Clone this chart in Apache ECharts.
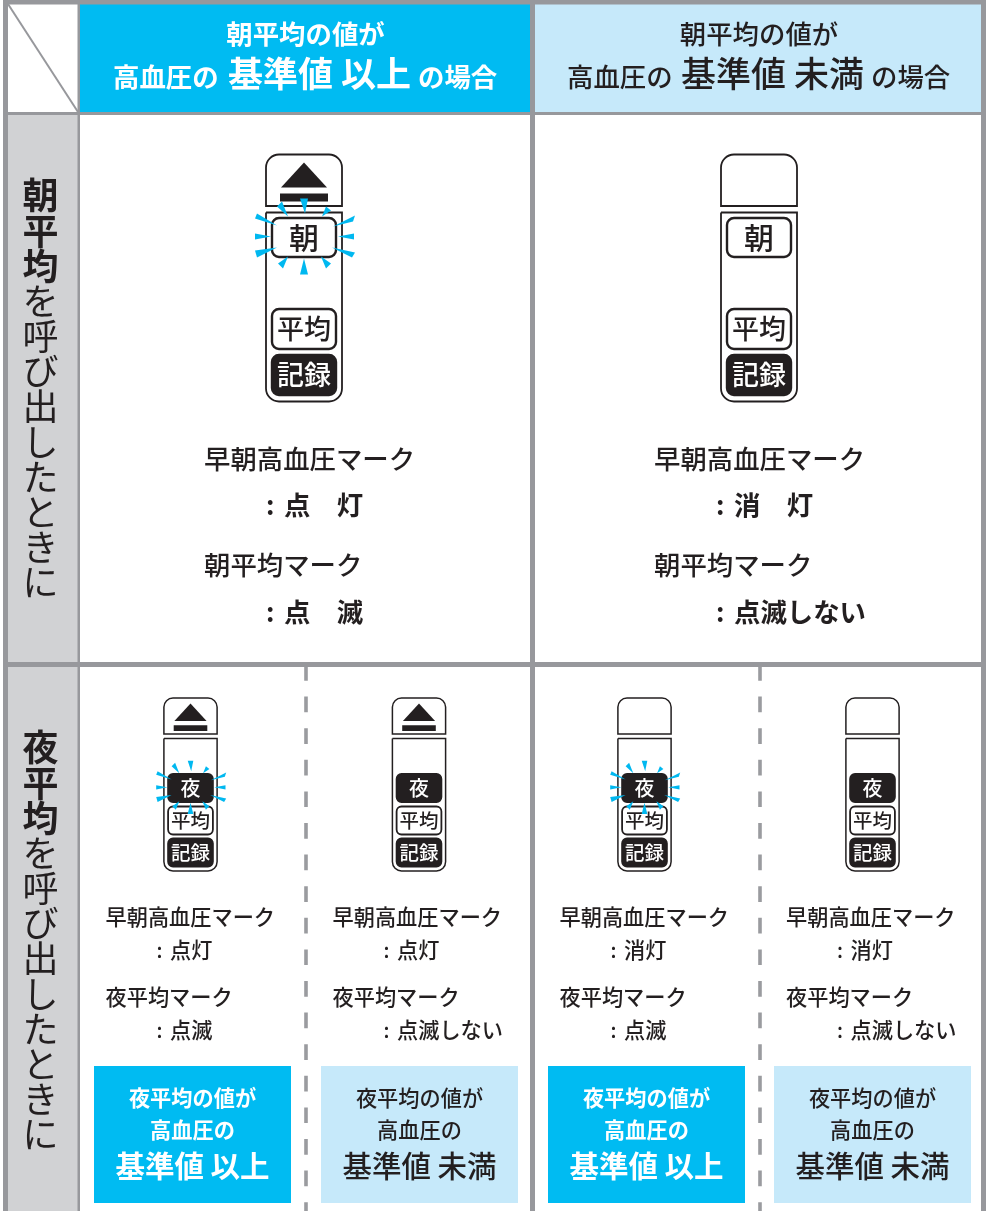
<!DOCTYPE html>
<html lang="ja">
<head>
<meta charset="utf-8">
<title>朝平均・夜平均</title>
<script src="https://cdn.jsdelivr.net/npm/echarts@6/dist/echarts.min.js"></script>
<style>
  html, body { margin: 0; padding: 0; background: #fff; }
  #chart { width: 988px; height: 1211px; }
</style>
</head>
<body>
<div id="chart"></div>
<script>
const headerLine1 = '朝平均の値が';
const headerLine2 = ['高血圧の', '基準値', 'の場合'];
const headerStates = ['以上', '未満'];
const sideBold = [['朝', '平', '均'], ['夜', '平', '均']];
const sideRest = ['を', '呼', 'び', '出', 'し', 'た', 'と', 'き', 'に'];
const markEarly = '早朝高血圧マーク';
const markAverage = ['朝平均マーク', '夜平均マーク'];
const largeEarlyState = ['点　灯', '消　灯'];
const largeAverageState = ['点　滅', '点滅しない'];
const smallEarlyState = ['点灯', '点灯', '消灯', '消灯'];
const smallAverageState = ['点滅', '点滅しない', '点滅', '点滅しない'];
const boxLines = ['夜平均の値が', '高血圧の'];
const boxStates = ['基準値 以上', '基準値 未満', '基準値 以上', '基準値 未満'];

const FONT = '"Noto Sans CJK JP", "Noto Sans", sans-serif';
const INK = '#231f20';
const GRID = '#97989c';
const BLUE = '#00bbf2';
const PALE = '#c6e9fa';
const RAY = '#00b8f0';

const els = [];

function box(x, y, w, h, fill, extra) {
  els.push({ type: 'rect', shape: { x, y, width: w, height: h, r: extra && extra.r || 0 },
    style: { fill, stroke: extra && extra.stroke || null, lineWidth: extra && extra.lw || 0 } });
}
function line(x1, y1, x2, y2, stroke, lw, dash) {
  els.push({ type: 'line', shape: { x1, y1, x2, y2 }, style: { stroke, lineWidth: lw, lineDash: dash || null } });
}
function poly(points, fill) {
  els.push({ type: 'polygon', shape: { points }, style: { fill } });
}
function label(text, x, y, size, opt) {
  opt = opt || {};
  els.push({ type: 'text', x, y, style: {
    text, font: `${opt.weight || (opt.bold ? 'bold' : '500')} ${size}px ${FONT}`, fill: opt.fill || INK,
    align: opt.align || 'left', verticalAlign: 'middle', lineHeight: opt.lineHeight,
  } });
}

// ray wedges around a button centre: [tipX, tipY, baseX1, baseY1, baseX2, baseY2], at large scale
const rays = [
  [1, -24, -4, -39, 4, -39], [-16, -21, -27, -31, -22, -36], [-27, -12, -49, -19, -47, -24],
  [-33, -1, -49, -4, -49, 2], [-27, 10, -49, 13, -47, 20], [-16, 19, -26, 26, -21, 31],
  [0, 21, -4, 37, 4, 37], [17, 19, 22, 31, 27, 26], [28, 10, 48, 20, 51, 15],
  [34, -1, 50, -4, 50, 2], [29, -11, 49, -16, 51, -22], [18, -21, 22, -31, 27, -27],
];

function device(cx, top, s, o) {
  const W = 76 * s, ink = o.ink;
  const r = 13 * s;
  // cap
  els.push({ type: 'rect', shape: { x: cx - W / 2, y: top, width: W, height: 51.5 * s, r: [r, r, 0, 0] },
    style: { fill: '#fff', stroke: INK, lineWidth: ink } });
  if (o.on) {
    poly([[cx, top + 8 * s], [cx - 23 * s, top + 33 * s], [cx + 23 * s, top + 33 * s]], INK);
    box(cx - 24 * s, top + 39 * s, 48 * s, 8 * s, INK);
  }
  // body
  els.push({ type: 'rect', shape: { x: cx - W / 2, y: top + 58 * s, width: W, height: 189 * s, r: [0, 0, r, r] },
    style: { fill: '#fff', stroke: INK, lineWidth: ink } });
  const bw = 64 * s, bx = cx - bw / 2;
  const btn = (y, h, text, dark, size) => {
    box(bx, y, bw, h, dark ? INK : '#fff', { r: 7 * s, stroke: INK, lw: o.btnInk });
    label(text, cx, y + h / 2, size, { align: 'center', fill: dark ? '#fff' : INK });
  };
  btn(o.topY, o.topH, o.name, o.topDark, o.nameSize);
  btn(o.avgY, o.btnH, '平均', false, o.btnSize);
  btn(o.recY, o.btnH, '記録', true, o.btnSize);
  if (o.blink) {
    const cy = o.topY + o.topH / 2;
    rays.forEach(a => poly([
      [cx + a[0] * s, cy + a[1] * s], [cx + a[2] * s, cy + a[3] * s], [cx + a[4] * s, cy + a[5] * s],
    ], RAY));
  }
}

// cell fills
box(0, 0, 988, 1211, '#fff');
box(8, 115, 70, 547, '#d1d2d4');
box(8, 667, 70, 544, '#d1d2d4');
box(80, 4, 450, 108, BLUE);
box(535, 4, 446, 108, PALE);

// dashed dividers in the lower row
[306, 760].forEach(x => line(x, 665, x, 1211, '#9a9b9f', 3.6, [15.7, 15.9]));

// frame
box(3, 0, 983, 4.5, GRID);
box(3, 0, 5, 1211, GRID);
box(981, 0, 5, 1211, GRID);
box(77.5, 0, 2.5, 1211, GRID);
box(530, 0, 5, 1211, GRID);
box(3, 112, 983, 3, GRID);
box(3, 662, 983, 5, GRID);
line(8, 4, 78, 112, GRID, 2);

// headers
label(headerLine1, 305.5, 34, 26.4, { bold: true, fill: '#fff', align: 'center' });
label(headerLine2[0], 113, 77, 26.4, { bold: true, fill: '#fff' });
label(headerLine2[1] + ' ' + headerStates[0], 228, 74, 35, { bold: true, fill: '#fff' });
label(headerLine2[2], 418, 77, 26.4, { bold: true, fill: '#fff' });
label(headerLine1, 759, 34, 26.4, { align: 'center' });
label(headerLine2[0], 567, 77, 26.4);
label(headerLine2[1] + ' ' + headerStates[1], 681, 74, 35);
label(headerLine2[2], 871, 77, 26.4);

// vertical row headings
[178, 730].forEach((y, i) => {
  label(sideBold[i].join('\n'), 40.5, y + 53, 36, { bold: true, align: 'center', lineHeight: 35.2 });
  label(sideRest.join('\n'), 40.5, y + 105.6 + 158.4, 36, { weight: 'normal', align: 'center', lineHeight: 35.2 });
});

// upper row
[304, 759].forEach((cx, i) => {
  device(cx, 154.5, 1, {
    on: i === 0, blink: i === 0, name: '朝', topY: 218, topH: 39, nameSize: 30, topDark: false,
    avgY: 309, recY: 355, btnH: 40, btnSize: 27, ink: 1.8, btnInk: 2.4,
  });
  const x = i === 0 ? 204 : 654;
  label(markEarly, x, 459, 26.4);
  label(':', x + 62, 505, 26, { bold: true });
  label(largeEarlyState[i], x + 80, 505, 26.4, { bold: true });
  label(markAverage[0], x, 565, 26.4);
  label(':', x + 62, 612, 26, { bold: true });
  label(largeAverageState[i], x + 80, 612, 26.4, { bold: true });
});

// lower row
const lowerCx = [190.5, 419, 644.5, 872.5];
const lowerTextX = [105.5, 332.5, 559.5, 786];
const lowerBoxX = [94, 321, 548, 774];
lowerCx.forEach((cx, i) => {
  device(cx, 698, 0.7, {
    on: i < 2, blink: i % 2 === 0, name: '夜', topY: 774, topH: 28, nameSize: 20, topDark: true,
    avgY: 806.5, recY: 838.5, btnH: 28, btnSize: 19.5, ink: 1.5, btnInk: 1.8,
  });
  const x = lowerTextX[i];
  label(markEarly, x, 917, 21.2);
  label(':', x + 51, 950, 20);
  label(smallEarlyState[i], x + 64.5, 950, 21.2);
  label(markAverage[1], x, 997, 21.2);
  label(':', x + 51, 1030, 20);
  label(smallAverageState[i], x + 64.5, 1030, 21.2);

  const strong = i % 2 === 0;
  const txt = { align: 'center', bold: strong, fill: strong ? '#fff' : INK };
  const bx = lowerBoxX[i];
  box(bx, 1066, 197, 137, strong ? BLUE : PALE);
  label(boxLines[0], bx + 98.5, 1098, 21.2, txt);
  label(boxLines[1], bx + 98.5, 1130, 21.2, txt);
  label(boxStates[i], bx + 98.5, 1166, 29.5, txt);
});

const chart = echarts.init(document.getElementById('chart'), null, { renderer: 'canvas' });
chart.setOption({ animation: false, graphic: { elements: els } });
</script>
</body>
</html>
